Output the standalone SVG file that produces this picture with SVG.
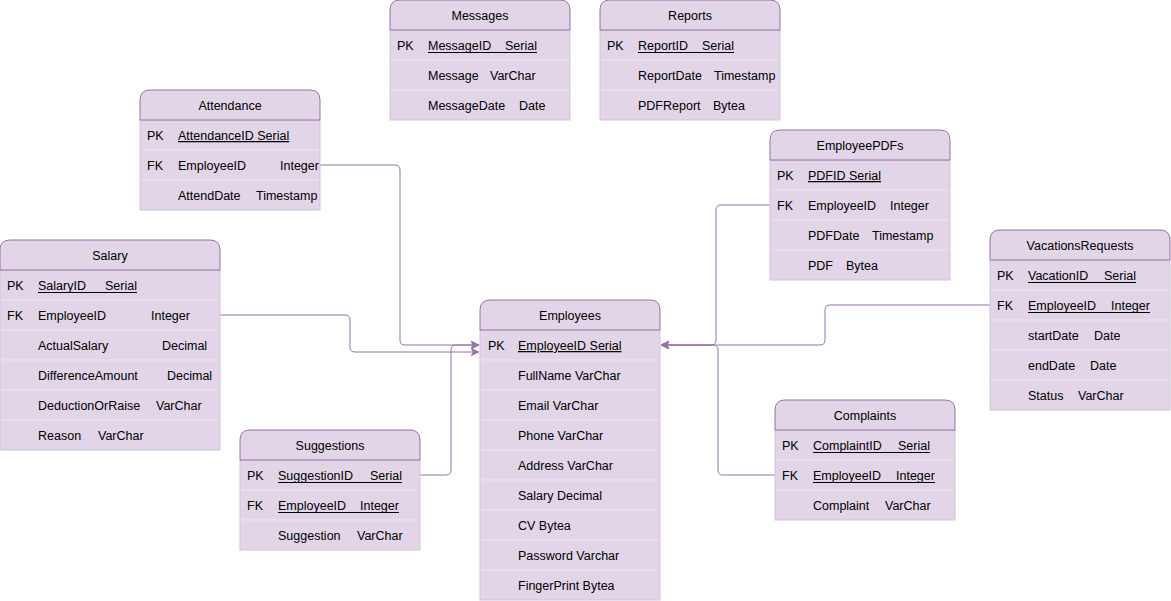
<svg xmlns="http://www.w3.org/2000/svg" width="1171" height="601" viewBox="0 0 1171 601">
<style>
.body{fill:#e1d5e7;stroke:#d2c1da;stroke-width:1}
.sep{stroke:#ece4f0;stroke-width:1}
.hdr{fill:#e1d5e7;stroke:#9673a6;stroke-width:1}
text{font-family:"Liberation Sans",Arial,Helvetica,sans-serif;font-size:12.5px;fill:#000}
.title{text-anchor:middle}
.u{text-decoration:underline}
.ul{stroke:#000;stroke-width:1}
.conn{fill:none;stroke:#9673a6;stroke-width:1}
</style>
<defs>
<marker id="arr" markerUnits="userSpaceOnUse" markerWidth="10" markerHeight="10" refX="8" refY="4" orient="auto">
<path d="M0,0 L8,4 L0,8 L2,4 Z" fill="#9673a6" stroke="#9673a6" stroke-width="0.5"/>
</marker>
</defs>
<rect width="1171" height="601" fill="#ffffff"/>

<g id="connectors">
<path class="conn" d="M320,165 H395 Q400,165 400,170 V340 Q400,345 405,345 H479" marker-end="url(#arr)"/>
<path class="conn" d="M220,315 H345 Q350,315 350,320 V347 Q350,352 355,352 H479" marker-end="url(#arr)"/>
<path class="conn" d="M420,475 H446 Q451,475 451,470 V350 Q451,345 456,345 H479" marker-end="url(#arr)"/>
<path class="conn" d="M770,205 H721 Q716,205 716,210 V340 Q716,345 711,345 H661" marker-end="url(#arr)"/>
<path class="conn" d="M990,305 H830 Q825,305 825,310 V340 Q825,345 820,345 H661" marker-end="url(#arr)"/>
<path class="conn" d="M775,475 H723 Q718,475 718,470 V350 Q718,345 713,345 H661" marker-end="url(#arr)"/>
</g>

<g id="messages" transform="translate(390,0)">
<rect class="body" x="0" y="30" width="180" height="90"/>
<line class="sep" x1="1" y1="60" x2="179" y2="60"/><line class="sep" x1="1" y1="90" x2="179" y2="90"/>
<path class="hdr" d="M0,30 V10 Q0,0 10,0 H170 Q180,0 180,10 V30 Z"/>
<text class="title" x="90" y="20">Messages</text>
<text x="7" y="50">PK</text>
<text x="38" y="50">MessageID<tspan x="115">Serial</tspan></text>
<line class="ul" x1="38" y1="52.5" x2="147" y2="52.5"/>
<text x="38" y="80">Message<tspan x="100">VarChar</tspan></text>
<text x="38" y="110">MessageDate<tspan x="129">Date</tspan></text>
</g>

<g id="reports" transform="translate(600,0)">
<rect class="body" x="0" y="30" width="180" height="90"/>
<line class="sep" x1="1" y1="60" x2="179" y2="60"/><line class="sep" x1="1" y1="90" x2="179" y2="90"/>
<path class="hdr" d="M0,30 V10 Q0,0 10,0 H170 Q180,0 180,10 V30 Z"/>
<text class="title" x="90" y="20">Reports</text>
<text x="7" y="50">PK</text>
<text x="38" y="50">ReportID<tspan x="102">Serial</tspan></text>
<line class="ul" x1="38" y1="52.5" x2="134" y2="52.5"/>
<text x="38" y="80">ReportDate<tspan x="114">Timestamp</tspan></text>
<text x="38" y="110">PDFReport<tspan x="113">Bytea</tspan></text>
</g>

<g id="attendance" transform="translate(140,90)">
<rect class="body" x="0" y="30" width="180" height="90"/>
<line class="sep" x1="1" y1="60" x2="179" y2="60"/><line class="sep" x1="1" y1="90" x2="179" y2="90"/>
<path class="hdr" d="M0,30 V10 Q0,0 10,0 H170 Q180,0 180,10 V30 Z"/>
<text class="title" x="90" y="20">Attendance</text>
<text x="7" y="50">PK</text>
<text class="u" x="38" y="50">AttendanceID Serial</text>
<text x="7" y="80">FK</text>
<text x="38" y="80">EmployeeID<tspan x="140">Integer</tspan></text>
<text x="38" y="110">AttendDate<tspan x="116">Timestamp</tspan></text>
</g>

<g id="salary" transform="translate(0,240)">
<rect class="body" x="0" y="30" width="220" height="180"/>
<line class="sep" x1="1" y1="60" x2="219" y2="60"/><line class="sep" x1="1" y1="90" x2="219" y2="90"/>
<line class="sep" x1="1" y1="120" x2="219" y2="120"/><line class="sep" x1="1" y1="150" x2="219" y2="150"/>
<line class="sep" x1="1" y1="180" x2="219" y2="180"/>
<path class="hdr" d="M0,30 V10 Q0,0 10,0 H210 Q220,0 220,10 V30 Z"/>
<text class="title" x="110" y="20">Salary</text>
<text x="7" y="50">PK</text>
<text x="38" y="50">SalaryID<tspan x="105">Serial</tspan></text>
<line class="ul" x1="38" y1="52.5" x2="137" y2="52.5"/>
<text x="7" y="80">FK</text>
<text x="38" y="80">EmployeeID<tspan x="151">Integer</tspan></text>
<text x="38" y="110">ActualSalary<tspan x="162">Decimal</tspan></text>
<text x="38" y="140">DifferenceAmount<tspan x="167">Decimal</tspan></text>
<text x="38" y="170">DeductionOrRaise<tspan x="156">VarChar</tspan></text>
<text x="38" y="200">Reason<tspan x="98">VarChar</tspan></text>
</g>

<g id="suggestions" transform="translate(240,430)">
<rect class="body" x="0" y="30" width="180" height="90"/>
<line class="sep" x1="1" y1="60" x2="179" y2="60"/><line class="sep" x1="1" y1="90" x2="179" y2="90"/>
<path class="hdr" d="M0,30 V10 Q0,0 10,0 H170 Q180,0 180,10 V30 Z"/>
<text class="title" x="90" y="20">Suggestions</text>
<text x="7" y="50">PK</text>
<text x="38" y="50">SuggestionID<tspan x="130">Serial</tspan></text>
<line class="ul" x1="38" y1="52.5" x2="162" y2="52.5"/>
<text x="7" y="80">FK</text>
<text x="38" y="80">EmployeeID<tspan x="120">Integer</tspan></text>
<line class="ul" x1="38" y1="82.5" x2="159" y2="82.5"/>
<text x="38" y="110">Suggestion<tspan x="117">VarChar</tspan></text>
</g>

<g id="employees" transform="translate(480,300)">
<rect class="body" x="0" y="30" width="180" height="270"/>
<line class="sep" x1="1" y1="60" x2="179" y2="60"/><line class="sep" x1="1" y1="90" x2="179" y2="90"/>
<line class="sep" x1="1" y1="120" x2="179" y2="120"/><line class="sep" x1="1" y1="150" x2="179" y2="150"/>
<line class="sep" x1="1" y1="180" x2="179" y2="180"/><line class="sep" x1="1" y1="210" x2="179" y2="210"/>
<line class="sep" x1="1" y1="240" x2="179" y2="240"/><line class="sep" x1="1" y1="270" x2="179" y2="270"/>
<path class="hdr" d="M0,30 V10 Q0,0 10,0 H170 Q180,0 180,10 V30 Z"/>
<text class="title" x="90" y="20">Employees</text>
<text x="8" y="50">PK</text>
<text class="u" x="38" y="50">EmployeeID Serial</text>
<text x="38" y="80">FullName VarChar</text>
<text x="38" y="110">Email VarChar</text>
<text x="38" y="140">Phone VarChar</text>
<text x="38" y="170">Address VarChar</text>
<text x="38" y="200">Salary Decimal</text>
<text x="38" y="230">CV Bytea</text>
<text x="38" y="260">Password Varchar</text>
<text x="38" y="290">FingerPrint Bytea</text>
</g>

<g id="employeepdfs" transform="translate(770,130)">
<rect class="body" x="0" y="30" width="180" height="120"/>
<line class="sep" x1="1" y1="60" x2="179" y2="60"/><line class="sep" x1="1" y1="90" x2="179" y2="90"/>
<line class="sep" x1="1" y1="120" x2="179" y2="120"/>
<path class="hdr" d="M0,30 V10 Q0,0 10,0 H170 Q180,0 180,10 V30 Z"/>
<text class="title" x="90" y="20">EmployeePDFs</text>
<text x="7" y="50">PK</text>
<text class="u" x="38" y="50">PDFID Serial</text>
<text x="7" y="80">FK</text>
<text x="38" y="80">EmployeeID<tspan x="120">Integer</tspan></text>
<text x="38" y="110">PDFDate<tspan x="102">Timestamp</tspan></text>
<text x="38" y="140">PDF<tspan x="76">Bytea</tspan></text>
</g>

<g id="vacationsrequests" transform="translate(990,230)">
<rect class="body" x="0" y="30" width="180" height="150"/>
<line class="sep" x1="1" y1="60" x2="179" y2="60"/><line class="sep" x1="1" y1="90" x2="179" y2="90"/>
<line class="sep" x1="1" y1="120" x2="179" y2="120"/><line class="sep" x1="1" y1="150" x2="179" y2="150"/>
<path class="hdr" d="M0,30 V10 Q0,0 10,0 H170 Q180,0 180,10 V30 Z"/>
<text class="title" x="90" y="20">VacationsRequests</text>
<text x="7" y="50">PK</text>
<text x="38" y="50">VacationID<tspan x="114">Serial</tspan></text>
<line class="ul" x1="38" y1="52.5" x2="146" y2="52.5"/>
<text x="7" y="80">FK</text>
<text x="38" y="80">EmployeeID<tspan x="121">Integer</tspan></text>
<line class="ul" x1="38" y1="82.5" x2="160" y2="82.5"/>
<text x="38" y="110">startDate<tspan x="104">Date</tspan></text>
<text x="38" y="140">endDate<tspan x="100">Date</tspan></text>
<text x="38" y="170">Status<tspan x="88">VarChar</tspan></text>
</g>

<g id="complaints" transform="translate(775,400)">
<rect class="body" x="0" y="30" width="180" height="90"/>
<line class="sep" x1="1" y1="60" x2="179" y2="60"/><line class="sep" x1="1" y1="90" x2="179" y2="90"/>
<path class="hdr" d="M0,30 V10 Q0,0 10,0 H170 Q180,0 180,10 V30 Z"/>
<text class="title" x="90" y="20">Complaints</text>
<text x="7" y="50">PK</text>
<text x="38" y="50">ComplaintID<tspan x="123">Serial</tspan></text>
<line class="ul" x1="38" y1="52.5" x2="155" y2="52.5"/>
<text x="7" y="80">FK</text>
<text x="38" y="80">EmployeeID<tspan x="121">Integer</tspan></text>
<line class="ul" x1="38" y1="82.5" x2="160" y2="82.5"/>
<text x="38" y="110">Complaint<tspan x="110">VarChar</tspan></text>
</g>
</svg>
